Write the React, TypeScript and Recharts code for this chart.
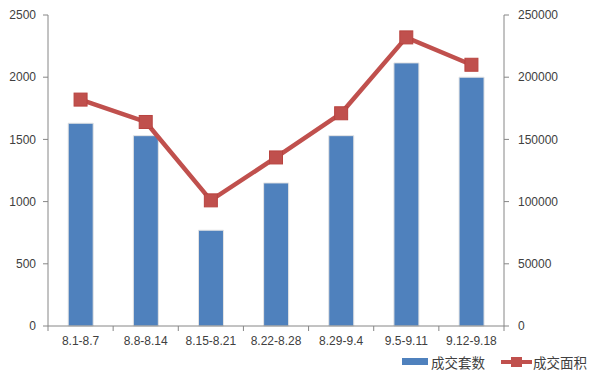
import React from "react";
import {
  ComposedChart,
  Bar,
  Line,
  XAxis,
  YAxis,
  Legend,
} from "recharts";

const weeks = ["8.1-8.7", "8.8-8.14", "8.15-8.21", "8.22-8.28", "8.29-9.4", "9.5-9.11", "9.12-9.18"];
const units = [1630, 1530, 770, 1150, 1530, 2115, 2000];
const area = [182000, 164000, 101000, 135500, 171000, 232000, 210000];
const leftTicks = [0, 500, 1000, 1500, 2000, 2500];
const rightTicks = [0, 50000, 100000, 150000, 200000, 250000];

const data = weeks.map((week, i) => ({
  week,
  units: units[i],
  area: area[i],
}));

const FONT = '"Liberation Sans", "Noto Sans CJK SC", sans-serif';
const AXIS = "#868686";
const TEXT = "#404040";
const BLUE = "#4F81BD";
const RED = "#C0504D";

const PLOT_LEFT = 48;
const PLOT_RIGHT = 504;
const BAND = (PLOT_RIGHT - PLOT_LEFT) / weeks.length;

function WeekTick(props: any) {
  const { x, y, payload, index } = props;
  const left = x - BAND / 2;
  return (
    <g>
      <line x1={left} y1={y - 8} x2={left} y2={y - 3} stroke={AXIS} />
      {index === weeks.length - 1 && (
        <line x1={left + BAND} y1={y - 8} x2={left + BAND} y2={y - 3} stroke={AXIS} />
      )}
      <text x={x} y={y + 11} textAnchor="middle" fill={TEXT} fontSize={12} fontFamily={FONT}>
        {payload.value}
      </text>
    </g>
  );
}

function SquareDot(props: any) {
  const { cx, cy } = props;
  if (cx == null || cy == null) return null;
  return <rect x={cx - 6.5} y={cy - 6.5} width={13} height={13} fill={RED} stroke="#B8433F" strokeWidth={1} />;
}

function LegendContent() {
  return (
    <div style={{ display: "flex", alignItems: "center", fontFamily: FONT, fontSize: 13.5, color: TEXT, height: 16 }}>
      <svg width={26} height={10} style={{ marginRight: 3 }}>
        <rect x={0} y={1} width={26} height={7} fill={BLUE} />
      </svg>
      <span style={{ marginRight: 16 }}>成交套数</span>
      <svg width={31} height={12} style={{ marginRight: 1 }}>
        <line x1={0} y1={6} x2={31} y2={6} stroke={RED} strokeWidth={4} />
        <rect x={10} y={1} width={11} height={10} fill={RED} />
      </svg>
      <span>成交面积</span>
    </div>
  );
}

export default function App() {
  return (
    <div style={{ position: "absolute", left: 0, top: 0, width: 595, height: 372, background: "#fff" }}>
      <ComposedChart
        width={595}
        height={372}
        data={data}
        margin={{ top: 15, right: 31, bottom: 6, left: 0 }}
        barCategoryGap="31%"
      >
        <XAxis
          dataKey="week"
          stroke={AXIS}
          tickLine={false}
          tick={<WeekTick />}
          height={24}
          interval={0}
        />
        <YAxis
          yAxisId="left"
          domain={[0, 2500]}
          ticks={leftTicks}
          width={48}
          stroke={AXIS}
          tickSize={5}
          tickMargin={7}
          tick={{ fill: TEXT, fontSize: 12, fontFamily: FONT }}
          interval={0}
        />
        <YAxis
          yAxisId="right"
          orientation="right"
          domain={[0, 250000]}
          ticks={rightTicks}
          width={60}
          stroke={AXIS}
          tickSize={5}
          tickMargin={9}
          tick={{ fill: TEXT, fontSize: 12, fontFamily: FONT }}
          interval={0}
        />
        <Legend
          verticalAlign="bottom"
          align="right"
          height={16}
          content={<LegendContent />}
          wrapperStyle={{ left: 402, width: 190, bottom: 2 }}
        />
        <Bar yAxisId="left" dataKey="units" name="成交套数" fill={BLUE} stroke="#E4E4E4" strokeWidth={1} isAnimationActive={false} />
        <Line
          yAxisId="right"
          dataKey="area"
          name="成交面积"
          stroke={RED}
          strokeWidth={4.5}
          dot={<SquareDot />}
          activeDot={false}
          isAnimationActive={false}
        />
      </ComposedChart>
    </div>
  );
}
